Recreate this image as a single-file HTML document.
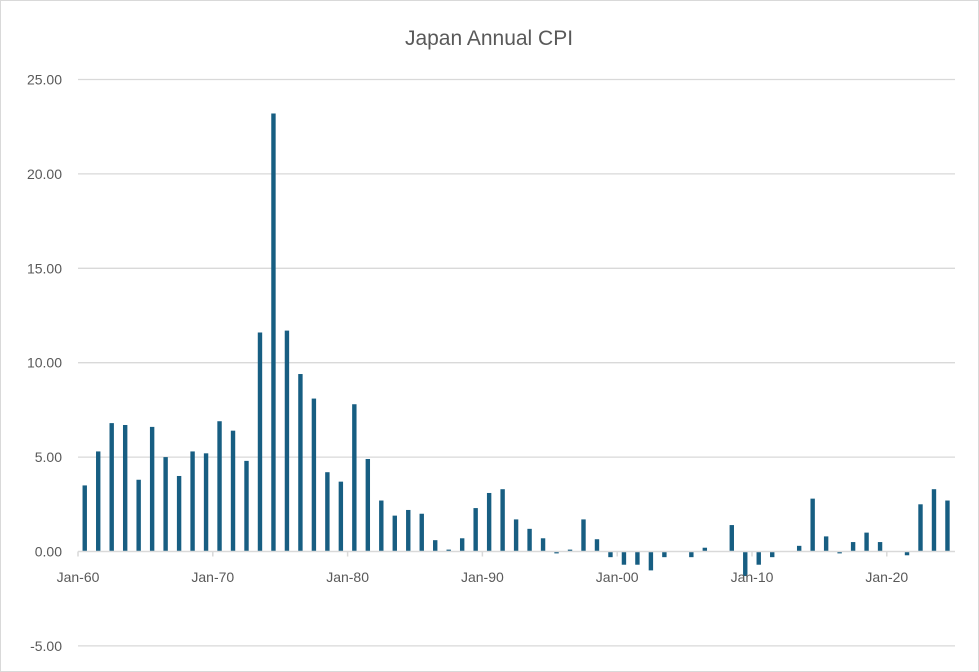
<!DOCTYPE html>
<html><head><meta charset="utf-8"><style>
html,body{margin:0;padding:0;background:#fff}
svg{display:block;font-family:"Liberation Sans",sans-serif}
</style></head><body>
<svg id="c" width="979" height="672" viewBox="0 0 979 672" xmlns="http://www.w3.org/2000/svg">
<rect x="0.5" y="0.5" width="978" height="671" fill="#fff" stroke="#d9d9d9"/>
<text x="489" y="45" text-anchor="middle" font-size="21" fill="#595959">Japan Annual CPI</text>
<g id="grid" stroke="#d9d9d9" stroke-width="1.3"></g>
<g id="lab" font-size="14" fill="#595959" text-anchor="end"></g>
<g id="bars" fill="#175e82"></g>
<g id="xa" stroke="#d9d9d9" stroke-width="1.5"></g>
<g id="xl" font-size="14" fill="#595959" text-anchor="middle"></g>
</svg>
<script>
var NS="http://www.w3.org/2000/svg";
function el(p,t,a,txt){var e=document.createElementNS(NS,t);for(var k in a)e.setAttribute(k,a[k]);if(txt)e.textContent=txt;document.getElementById(p).appendChild(e);}
var y0=551.5,u=18.88,x0=78,w=13.48;
for(var v=25;v>=-5;v-=5){var y=y0-v*u;if(v!==0)el("grid","line",{x1:x0,x2:955,y1:y,y2:y});el("lab","text",{x:62,y:y+5},v.toFixed(2));}
var d=[3.5,5.3,6.8,6.7,3.8,6.6,5.0,4.0,5.3,5.2,6.9,6.4,4.8,11.6,23.2,11.7,9.4,8.1,4.2,3.7,7.8,4.9,2.7,1.9,2.2,2.0,0.6,0.1,0.7,2.3,3.1,3.3,1.7,1.2,0.7,-0.1,0.1,1.7,0.65,-0.3,-0.7,-0.7,-1.0,-0.3,0,-0.3,0.2,0,1.4,-1.3,-0.7,-0.3,0,0.3,2.8,0.8,-0.1,0.5,1.0,0.5,0,-0.2,2.5,3.3,2.7];
d.forEach(function(v,i){if(v===0)return;var cx=x0+w*i+w/2;var h=Math.abs(v)*u;el("bars","rect",{x:cx-2.2,y:v>0?y0-h:y0,width:4.4,height:h});});
el("xa","line",{x1:x0,x2:955,y1:y0,y2:y0});
["Jan-60","Jan-70","Jan-80","Jan-90","Jan-00","Jan-10","Jan-20"].forEach(function(t,j){var x=x0+w*10*j;el("xa","line",{x1:x,x2:x,y1:y0,y2:y0+5});el("xl","text",{x:x,y:582},t);});
</script>
</body></html>
